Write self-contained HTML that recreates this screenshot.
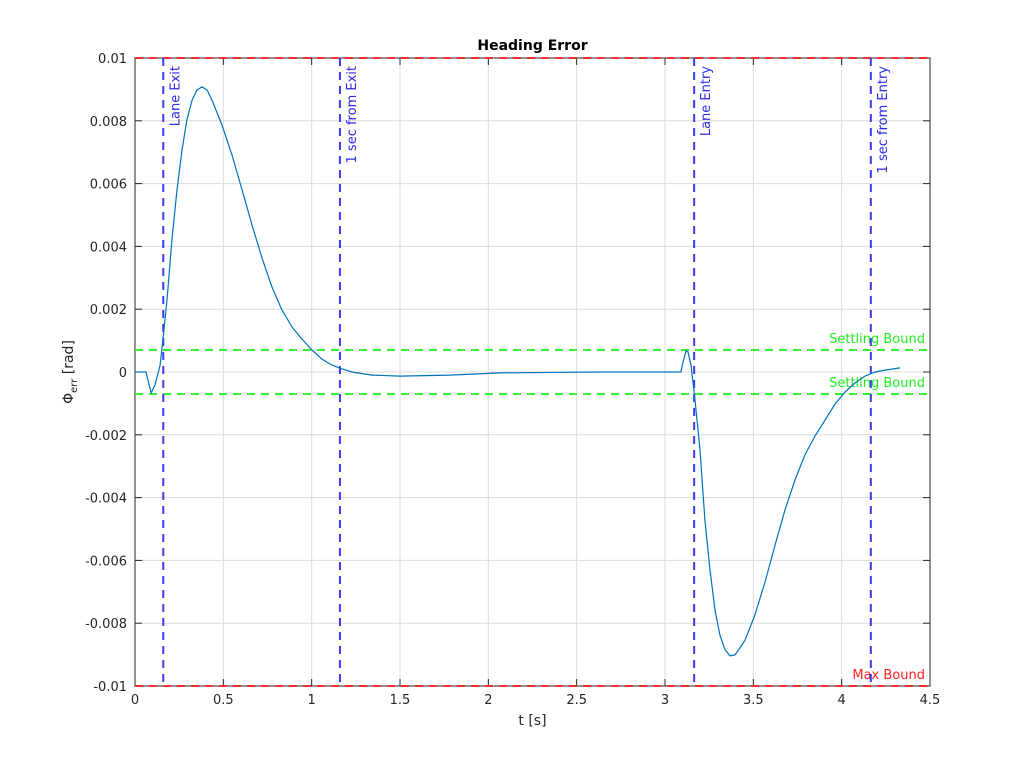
<!DOCTYPE html>
<html><head><meta charset="utf-8"><style>
body{margin:0;background:#fff;font-family:"Liberation Sans","DejaVu Sans",sans-serif;}
svg text{font-family:"DejaVu Sans","Liberation Sans",sans-serif;}
</style></head><body>
<svg id="chart" width="1028" height="772" xmlns="http://www.w3.org/2000/svg"></svg>
<script>
const ts=[0,0.062,0.091,0.113,0.142,0.158,0.181,0.209,0.238,0.266,0.294,0.323,0.351,0.379,0.408,0.436,0.492,0.549,0.606,0.662,0.719,0.775,0.832,0.889,0.945,1.002,1.058,1.115,1.172,1.228,1.341,1.500,1.783,2.066,2.632,3.090,3.102,3.119,3.130,3.147,3.170,3.198,3.226,3.255,3.283,3.311,3.340,3.368,3.396,3.424,3.453,3.509,3.566,3.623,3.679,3.736,3.792,3.849,3.906,3.962,4.019,4.075,4.132,4.189,4.245,4.330];
const errs=[0,0,-0.67,-0.41,0.22,1.02,2.29,4.20,5.80,7.07,8.03,8.66,8.98,9.08,8.98,8.66,7.87,6.91,5.80,4.68,3.63,2.71,1.97,1.43,1.05,0.70,0.41,0.22,0.10,0,-0.10,-0.13,-0.10,-0.03,0,0,0.32,0.67,0.64,0.22,-0.89,-2.48,-4.71,-6.31,-7.58,-8.38,-8.85,-9.04,-9.01,-8.79,-8.54,-7.74,-6.69,-5.51,-4.39,-3.44,-2.64,-2.04,-1.53,-1.02,-0.64,-0.35,-0.13,0,0.06,0.13];
const xTicks=[0,0.5,1,1.5,2,2.5,3,3.5,4,4.5];
const yTicks=[-0.01,-0.008,-0.006,-0.004,-0.002,0,0.002,0.004,0.006,0.008,0.01];
const yTickLabels=["-0.01","-0.008","-0.006","-0.004","-0.002","0","0.002","0.004","0.006","0.008","0.01"];
const eventTimes=[0.16,1.16,3.165,4.165];
const eventLabels=["Lane Exit","1 sec from Exit","Lane Entry","1 sec from Entry"];
const settleBound=0.0007;
const maxBound=0.01;

const L=135,R=930,T=58,B=686;
const X=v=>L+(v-0)/(4.5)*(R-L);
const Y=v=>B-(v+0.01)/0.02*(B-T);
const svg=document.getElementById('chart');
const NS='http://www.w3.org/2000/svg';
function mk(tag,attrs,parent){const e=document.createElementNS(NS,tag);for(const k in attrs)e.setAttribute(k,attrs[k]);(parent||svg).appendChild(e);return e;}

const grid=mk('g',{});


xTicks.forEach(v=>mk('line',{x1:X(v),x2:X(v),y1:T,y2:B,stroke:'#dcdcdc','stroke-width':1},grid));
yTicks.forEach(v=>mk('line',{x1:L,x2:R,y1:Y(v),y2:Y(v),stroke:'#dcdcdc','stroke-width':1},grid));

const ax=mk('g',{});


mk('rect',{x:L,y:T,width:R-L,height:B-T,fill:'none',stroke:'#262626','stroke-width':1},ax);
xTicks.forEach(v=>{mk('line',{x1:X(v),x2:X(v),y1:B,y2:B-7,stroke:'#262626'},ax);mk('line',{x1:X(v),x2:X(v),y1:T,y2:T+7,stroke:'#262626'},ax);
 const t=mk('text',{x:X(v),y:B+18,'text-anchor':'middle','font-size':13,fill:'#262626'},ax);t.textContent=String(v);
 
});
yTicks.forEach((v,i)=>{mk('line',{x1:L,x2:L+7,y1:Y(v),y2:Y(v),stroke:'#262626'},ax);mk('line',{x1:R,x2:R-7,y1:Y(v),y2:Y(v),stroke:'#262626'},ax);
 const t=mk('text',{x:L-8,y:Y(v)+5,'text-anchor':'end','font-size':13,fill:'#262626'},ax);t.textContent=yTickLabels[i];
 
});

// bounds
[maxBound,-maxBound].forEach(b=>{const l=mk('line',{x1:L,x2:R,y1:Y(b),y2:Y(b),stroke:'#f03030','stroke-width':2,'stroke-dasharray':'8,6'});
 });
[settleBound,-settleBound].forEach(b=>{const l=mk('line',{x1:L,x2:R,y1:Y(b),y2:Y(b),stroke:'#33ee33','stroke-width':2,'stroke-dasharray':'8,6'});
 });
[settleBound,-settleBound].forEach(b=>{const t=mk('text',{x:R-5,y:Y(b)-7,'text-anchor':'end','font-size':13,fill:'#22ee22'});t.textContent='Settling Bound';
 });
{const t=mk('text',{x:R-5,y:Y(-maxBound)-7,'text-anchor':'end','font-size':13,fill:'#ff2020'});t.textContent='Max Bound';
 }

eventTimes.forEach((et,i)=>{const l=mk('line',{x1:X(et),x2:X(et),y1:T,y2:B,stroke:'#3a3af5','stroke-width':2,'stroke-dasharray':'8,6'});
 
 const t=mk('text',{transform:`translate(${X(et)+16},${T+8}) rotate(-90)`,'text-anchor':'end','font-size':13,fill:'#2a2ae8'});t.textContent=eventLabels[i];
 
});

const d=ts.map((t,i)=>(i?'L':'M')+X(t).toFixed(1)+','+Y(errs[i]/1000).toFixed(1)).join(' ');
const p=mk('path',{d:d,fill:'none',stroke:'#0072bd','stroke-width':1.2,'stroke-linejoin':'round'});



const title=mk('text',{x:(L+R)/2,y:50,'text-anchor':'middle','font-size':14,'font-weight':'bold',fill:'#000'});title.textContent='Heading Error';


const xl=mk('text',{x:(L+R)/2,y:725,'text-anchor':'middle','font-size':14,fill:'#262626'});xl.textContent='t [s]';


const yl=mk('text',{transform:`translate(73,${(T+B)/2}) rotate(-90)`,'text-anchor':'middle','font-size':14,fill:'#262626'});
yl.innerHTML='Φ<tspan font-size="10" dy="4">err</tspan><tspan dy="-4"> [rad]</tspan>';


</script>
</body></html>
